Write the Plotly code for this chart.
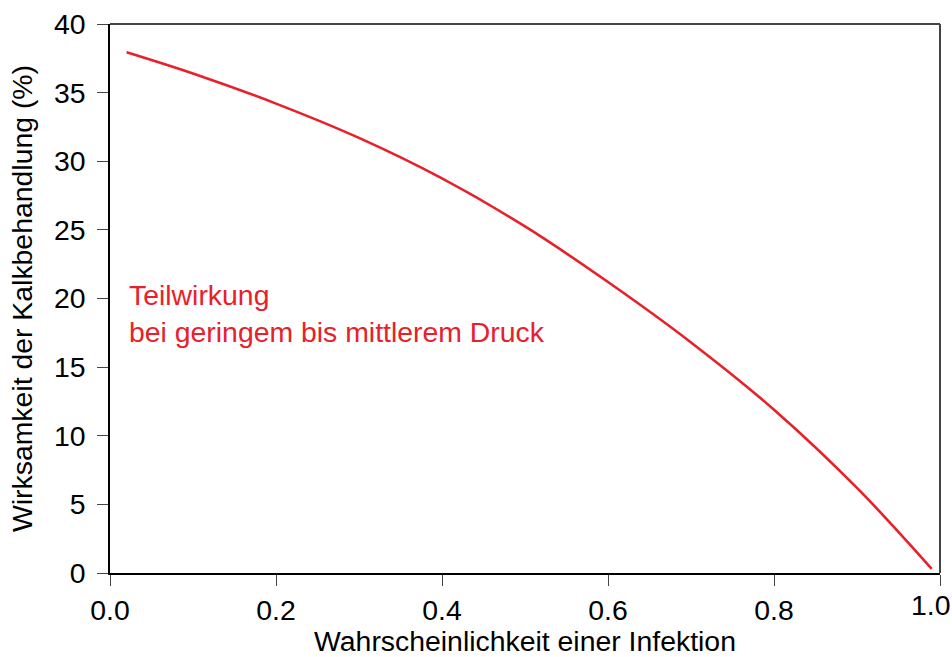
import plotly.graph_objects as go

infektion = [0.02, 0.1, 0.2, 0.3, 0.4, 0.5, 0.6, 0.7, 0.8, 0.9, 0.99]
wirksamkeit = [37.95, 36.4, 34.2, 31.7, 28.75, 25.25, 21.2, 16.8, 11.9, 6.2, 0.3]

x_ticks = [0.0, 0.2, 0.4, 0.6, 0.8, 1.0]
x_ticktext = ["0.0", "0.2", "0.4", "0.6", "0.8", ""]
y_ticks = [0, 5, 10, 15, 20, 25, 30, 35, 40]

RED = "#e8202a"
FONT = "Liberation Sans, Arial, sans-serif"
FS = 28.4

fig = go.Figure()
fig.add_trace(go.Scatter(
    x=infektion, y=wirksamkeit, mode="lines",
    line=dict(color=RED, width=2.6, shape="spline", smoothing=1.0),
    showlegend=False, hoverinfo="skip",
))

fig.add_annotation(
    x=0.021, y=18.9, xref="x", yref="y",
    text="Teilwirkung<br>bei geringem bis mittlerem Druck",
    showarrow=False, xanchor="left", yanchor="middle", align="left",
    font=dict(family=FONT, size=FS, color=RED),
)

# last x tick label, kept inside the page like the reference
fig.add_annotation(
    x=1.0, y=0, xref="x", yref="paper", text="1.0",
    showarrow=False, xanchor="right", yanchor="top", xshift=12, yshift=-14,
    font=dict(family=FONT, size=FS, color="black"),
)

# top and right frame lines
fig.add_shape(type="line", xref="paper", yref="paper", x0=0, x1=1, y0=1, y1=1,
              line=dict(color="#444444", width=2))
fig.add_shape(type="line", xref="paper", yref="paper", x0=1, x1=1, y0=0, y1=1,
              line=dict(color="#444444", width=2))

fig.update_layout(
    width=952, height=657,
    margin=dict(l=110, r=12, t=24, b=84),
    paper_bgcolor="white", plot_bgcolor="white",
    font=dict(family=FONT, size=FS, color="black"),
    xaxis=dict(
        range=[0, 1], tickvals=x_ticks, ticktext=x_ticktext,
        showgrid=False, zeroline=False, automargin=False,
        showline=True, linecolor="black", linewidth=1.5,
        ticks="outside", ticklen=11, tickwidth=1.3, tickcolor="#444444",
        tickfont=dict(size=FS), ticklabelstandoff=0, ticklabeloverflow="allow",
        title=dict(text="Wahrscheinlichkeit einer Infektion", font=dict(size=FS), standoff=6),
    ),
    yaxis=dict(
        range=[0, 40], tickvals=y_ticks,
        showgrid=False, zeroline=False, automargin=False,
        showline=True, linecolor="black", linewidth=1.5,
        ticks="outside", ticklen=11, tickwidth=1.3, tickcolor="#444444",
        tickfont=dict(size=FS), ticklabelstandoff=6, ticklabeloverflow="allow",
        title=dict(text="Wirksamkeit der Kalkbehandlung (%)", font=dict(size=FS), standoff=13),
    ),
)

fig.write_html("out.html", config={"displayModeBar": False},
               post_script="document.body.style.margin='0px';")
